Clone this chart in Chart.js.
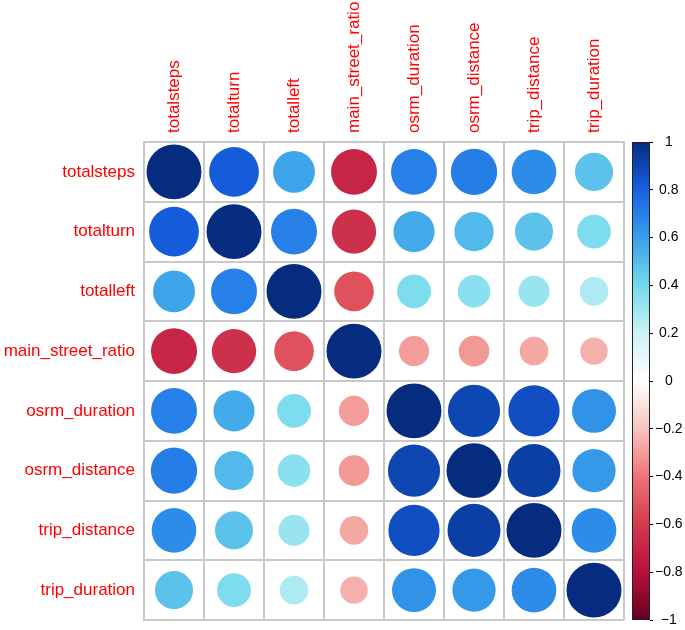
<!DOCTYPE html>
<html>
<head>
<meta charset="utf-8">
<script src="https://cdn.jsdelivr.net/npm/chart.js@4/dist/chart.umd.min.js"></script>
<style>
  body { margin: 0; background: #fff; }
  #wrap { width: 685px; height: 630px; }
</style>
</head>
<body>
<div id="wrap"><canvas id="corrChart" width="685" height="630"></canvas></div>
<script>
// variable names (rows and columns are the same)
const vars = ["totalsteps", "totalturn", "totalleft", "main_street_ratio",
  "osrm_duration", "osrm_distance", "trip_distance", "trip_duration"];

// correlation rows
const totalsteps      = [ 1.00,  0.82,  0.58, -0.70,  0.70,  0.71,  0.66,  0.48];
const totalturn       = [ 0.82,  1.00,  0.70, -0.65,  0.56,  0.51,  0.48,  0.38];
const totalleft       = [ 0.58,  0.70,  1.00, -0.52,  0.38,  0.35,  0.32,  0.27];
const mainStreetRatio = [-0.70, -0.65, -0.52,  1.00, -0.30, -0.31, -0.27, -0.25];
const osrmDuration    = [ 0.70,  0.56,  0.38, -0.30,  1.00,  0.90,  0.87,  0.64];
const osrmDistance    = [ 0.71,  0.51,  0.35, -0.31,  0.90,  1.00,  0.93,  0.62];
const tripDistance    = [ 0.66,  0.48,  0.32, -0.27,  0.87,  0.93,  1.00,  0.66];
const tripDuration    = [ 0.48,  0.38,  0.27, -0.25,  0.64,  0.62,  0.66,  1.00];

const rows = [totalsteps, totalturn, totalleft, mainStreetRatio,
  osrmDuration, osrmDistance, tripDistance, tripDuration];

// colour bar ticks
const cbTicks = [-1, -0.8, -0.6, -0.4, -0.2, 0, 0.2, 0.4, 0.6, 0.8, 1];

// colour ramp (value -> colour)
const rampVals = [-1, -0.8, -0.6, -0.4, -0.2, 0, 0.2, 0.4, 0.6, 0.8, 1];
const rampCols = ["#67001F", "#B8103C", "#D33A4E", "#EE7474", "#F7C4BD", "#FFFFFF",
  "#CDF2F3", "#74DAEC", "#379FE9", "#1761E4", "#062C80"];

function hexToRgb(h) {
  const n = parseInt(h.slice(1), 16);
  return [(n >> 16) & 255, (n >> 8) & 255, n & 255];
}

function colorFor(v) {
  v = Math.max(-1, Math.min(1, v));
  for (let i = 0; i < rampVals.length - 1; i++) {
    if (v <= rampVals[i + 1]) {
      const t = (v - rampVals[i]) / (rampVals[i + 1] - rampVals[i]);
      const a = hexToRgb(rampCols[i]), b = hexToRgb(rampCols[i + 1]);
      const c = a.map((x, k) => Math.round(x + (b[k] - x) * t));
      return `rgb(${c[0]}, ${c[1]}, ${c[2]})`;
    }
  }
  return rampCols[rampCols.length - 1];
}

const points = [];
rows.forEach((row, i) => {
  row.forEach((v, j) => {
    points.push({ x: vars[j], y: vars[i], v: v });
  });
});

const gridColor = "#c8c8c8";
const labelRed = "#ff0000";

Chart.defaults.font.family = "'Liberation Sans', Arial, Helvetica, sans-serif";

// no extra padding from first/last tick labels
function noPad(s) {
  s.paddingTop = 0;
  s.paddingBottom = 0;
  s.paddingLeft = 0;
  s.paddingRight = 0;
}

// draws the gradient colour bar next to the "cb" scale
const colorBar = {
  id: "colorBar",
  afterDraw(chart) {
    const cb = chart.scales.cb;
    const ctx = chart.ctx;
    const top = cb.getPixelForValue(1);
    const bottom = cb.getPixelForValue(-1);
    const right = cb.left;
    const left = right - 18;
    const grad = ctx.createLinearGradient(0, bottom, 0, top);
    rampVals.forEach((v, i) => grad.addColorStop((v + 1) / 2, rampCols[i]));
    ctx.save();
    ctx.fillStyle = grad;
    ctx.fillRect(left, top, right - left, bottom - top);
    ctx.strokeStyle = "#222";
    ctx.lineWidth = 1;
    ctx.strokeRect(left + 0.5, top + 0.5, right - left - 1, bottom - top - 1);
    ctx.restore();
  }
};

new Chart(document.getElementById("corrChart"), {
  type: "bubble",
  data: {
    datasets: [{
      data: points,
      backgroundColor: c => colorFor(c.raw ? c.raw.v : 0),
      borderWidth: 0,
      hoverBorderWidth: 0,
      radius: c => {
        const ch = c.chart;
        const cw = ch.chartArea ? (ch.chartArea.right - ch.chartArea.left) / vars.length : 60;
        const chh = ch.chartArea ? (ch.chartArea.bottom - ch.chartArea.top) / vars.length : 60;
        return Math.sqrt(Math.abs(c.raw.v)) * Math.min(cw, chh) * 0.458;
      }
    }]
  },
  options: {
    responsive: false,
    animation: false,
    layout: { autoPadding: false, padding: { top: 0, left: 0, right: 0, bottom: 10 } },
    plugins: {
      legend: { display: false },
      tooltip: { enabled: false }
    },
    scales: {
      x: {
        type: "category",
        labels: vars,
        position: "top",
        offset: true,
        grid: { offset: true, color: gridColor, lineWidth: 2, drawTicks: false },
        border: { display: true, color: gridColor, width: 2 },
        ticks: {
          color: labelRed,
          font: { size: 17 },
          minRotation: 90,
          maxRotation: 90,
          autoSkip: false,
          padding: 9,
          labelOffset: 21
        },
        afterFit: s => { s.height = 142; noPad(s); }
      },
      y: {
        type: "category",
        labels: vars,
        position: "left",
        offset: true,
        grid: { offset: true, color: gridColor, lineWidth: 2, drawTicks: false },
        border: { display: true, color: gridColor, width: 2 },
        ticks: {
          color: labelRed,
          font: { size: 17 },
          autoSkip: false,
          padding: 9
        },
        afterFit: s => { s.width = 144; noPad(s); }
      },
      gap: {
        type: "linear",
        position: "right",
        weight: 0,
        grid: { display: false },
        border: { display: false },
        ticks: { display: false },
        afterFit: s => { s.width = 26; noPad(s); }
      },
      cb: {
        type: "linear",
        position: "right",
        weight: 1,
        min: -1,
        max: 1,
        afterBuildTicks: s => { s.ticks = cbTicks.map(v => ({ value: v })); },
        grid: {
          display: true,
          drawOnChartArea: false,
          drawTicks: true,
          tickLength: 3,
          tickColor: "#000",
          tickWidth: 1
        },
        border: { display: false },
        ticks: {
          color: "#000",
          font: { size: 14 },
          crossAlign: "center",
          padding: 2,
          callback: v => {
            const r = Math.round(v * 10) / 10;
            if (r === 0) return "0";
            return (r < 0 ? "\u2212" : "") + String(Math.abs(r));
          }
        },
        afterFit: s => { s.width = 35; noPad(s); }
      }
    }
  },
  plugins: [colorBar]
});
</script>
</body>
</html>
